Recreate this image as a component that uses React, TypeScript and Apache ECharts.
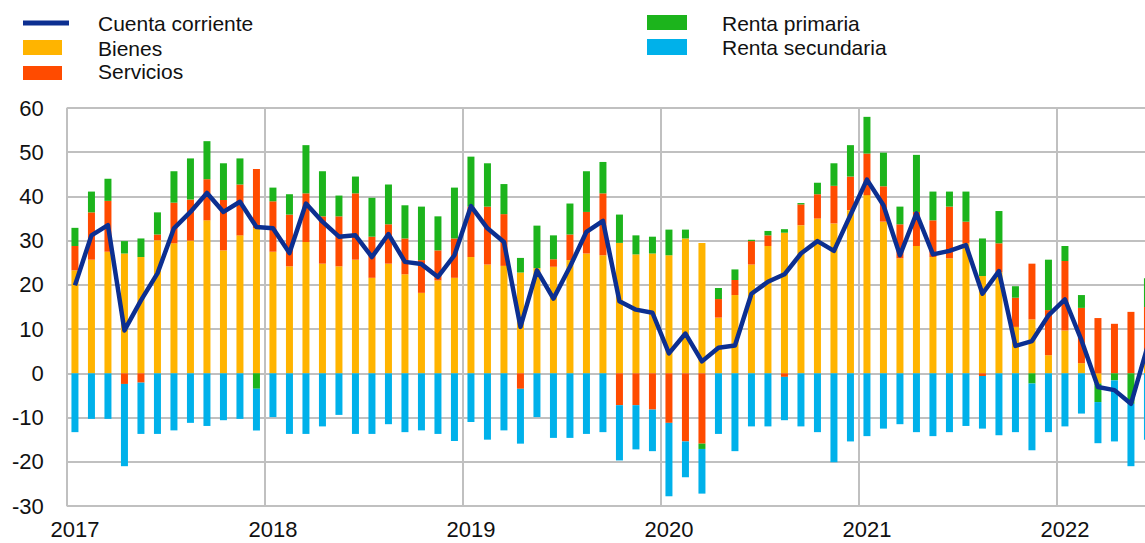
import React, { useEffect, useRef } from "react";
import * as echarts from "echarts";

const years = ["2017", "2018", "2019", "2020", "2021", "2022"];
const monthsPerYear = [12, 12, 12, 12, 12, 6];
const categories: string[] = [];
years.forEach((y, yi) => {
  for (let m = 1; m <= monthsPerYear[yi]; m++) categories.push(y + "-" + (m < 10 ? "0" + m : m));
});

const bienes = [
  23.3, 25.7, 27.5, 27.1, 26.3, 30.1, 29.4, 30.0, 34.6, 27.8, 31.2, 32.8,
  27.5, 24.2, 29.7, 24.8, 24.2, 25.7, 21.6, 24.8, 22.4, 18.2, 21.0, 21.6,
  26.3, 24.6, 24.3, 22.8, 23.8, 24.1, 25.6, 27.1, 26.7, 29.5, 26.9, 27.1,
  26.7, 30.5, 29.5, 12.6, 17.7, 24.6, 28.8, 31.8, 33.5, 35.0, 33.9, 36.9,
  40.3, 34.3, 26.0, 28.8, 26.3, 26.0, 29.4, 22.0, 22.9, 10.5, 12.2, 4.1,
  9.7, 2.3, -2.3, 0, 0, 3.0,
];
const servicios = [
  5.5, 10.7, 11.5, -2.4, -2.1, 1.3, 9.2, 9.3, 9.3, 11.4, 11.5, 13.4,
  11.4, 11.7, 11.0, 10.7, 11.3, 15.0, 9.3, 8.9, 8.1, 7.4, 6.8, 8.9,
  11.4, 13.1, 11.7, -3.5, 0, 1.7, 5.8, 9.4, 14.0, -7.2, -7.2, -8.2,
  -11.2, -15.4, -15.9, 4.2, 3.4, 5.3, 2.4, -0.8, 4.7, 5.5, 8.5, 7.6,
  9.4, 8.0, 7.7, 7.7, 8.3, 11.7, 4.9, -0.6, 6.5, 6.6, 12.6, 10.2,
  15.7, 12.5, 12.5, 11.2, 13.9, 12.0,
];
const rentaPrimaria = [
  4.1, 4.7, 5.0, 2.8, 4.2, 5.0, 7.1, 9.3, 8.6, 8.3, 5.9, -3.5,
  3.1, 4.6, 10.9, 10.2, 4.7, 3.8, 8.8, 9.0, 7.5, 12.1, 7.7, 11.5,
  11.3, 9.8, 6.8, 3.3, 9.6, 5.4, 7.0, 9.2, 7.1, 6.4, 4.3, 3.8,
  5.8, 2.0, -1.2, 2.5, 2.4, 0.3, 1.0, 0.8, 0.3, 2.6, 5.1, 7.1,
  8.3, 7.6, 4.0, 12.9, 6.5, 3.4, 6.8, 8.5, 7.3, 2.6, -2.3, 11.4,
  3.4, 2.9, -4.2, -1.6, -6.9, 6.5,
];
const rentaSecundaria = [
  -13.3, -10.3, -10.3, -18.6, -11.6, -13.7, -12.9, -11.2, -11.9, -10.6, -10.3, -9.4,
  -9.9, -13.7, -13.7, -12.0, -9.4, -13.7, -13.7, -11.5, -13.3, -12.9, -13.7, -15.3,
  -11.0, -15.0, -12.9, -12.4, -9.9, -14.6, -14.6, -13.7, -13.3, -12.5, -10.0, -9.4,
  -16.6, -8.1, -10.1, -13.7, -17.6, -12.0, -12.0, -9.8, -12.0, -13.3, -20.1, -15.4,
  -14.2, -12.5, -11.5, -13.3, -14.2, -13.3, -11.9, -11.9, -14.0, -13.3, -15.1, -13.3,
  -12.0, -9.1, -9.3, -13.8, -14.1, -15.0,
];
const cuentaCorriente = [
  19.9, 31.2, 33.5, 9.7, 16.5, 22.6, 32.8, 36.5, 40.8, 36.5, 38.8, 33.1,
  32.8, 27.2, 38.4, 34.3, 30.9, 31.2, 26.3, 31.5, 25.2, 24.7, 21.8, 26.7,
  37.8, 32.8, 29.7, 10.5, 23.3, 16.9, 24.1, 32.0, 34.5, 16.3, 14.4, 13.7,
  4.5, 9.0, 2.7, 5.8, 6.3, 18.0, 20.7, 22.4, 27.1, 29.9, 27.7, 35.8,
  43.8, 38.0, 26.7, 36.2, 26.9, 27.7, 29.0, 18.0, 23.1, 6.2, 7.3, 13.1,
  16.7, 7.5, -3.1, -3.8, -6.9, 6.0,
];

const C_LINE = "#0c2f91";
const C_BIENES = "#ffb400";
const C_SERV = "#ff4b00";
const C_PRIM = "#1cb41c";
const C_SEC = "#00b1ea";
const FONT = "'Liberation Sans', Arial, sans-serif";

export default function App() {
  const ref = useRef<HTMLDivElement>(null);
  useEffect(() => {
    if (!ref.current) return;
    const chart = echarts.init(ref.current, null, { renderer: "svg" });
    const yearTick = (i: number) => i % 12 === 0;
    const legendText = (x: number, y: number, t: string) => ({
      type: "text",
      left: x,
      top: y - 12,
      style: { text: t, fill: "#111", font: "21px " + FONT },
    });
    chart.setOption({
      animation: false,
      backgroundColor: "#fff",
      textStyle: { fontFamily: FONT },
      grid: { left: 66.7, right: 44.3, top: 108, bottom: 37 },
      xAxis: {
        type: "category",
        data: categories,
        boundaryGap: true,
        axisLine: { show: false },
        axisTick: { show: false },
        axisLabel: {
          interval: yearTick,
          formatter: (v: string) => v.slice(0, 4),
          fontSize: 22,
          color: "#111",
          margin: 12,
          fontFamily: FONT,
        },
        splitLine: { show: true, interval: yearTick, lineStyle: { color: "#c0c0c0", width: 2 } },
      },
      yAxis: {
        type: "value",
        min: -30,
        max: 60,
        interval: 10,
        axisLine: { show: false },
        axisTick: { show: false },
        axisLabel: { fontSize: 22, color: "#111", margin: 23, fontFamily: FONT },
        splitLine: { show: true, lineStyle: { color: "#c0c0c0", width: 2 } },
      },
      series: [
        { name: "Bienes", type: "bar", stack: "t", barWidth: 7, data: bienes, itemStyle: { color: C_BIENES } },
        { name: "Servicios", type: "bar", stack: "t", barWidth: 7, data: servicios, itemStyle: { color: C_SERV } },
        { name: "Renta primaria", type: "bar", stack: "t", barWidth: 7, data: rentaPrimaria, itemStyle: { color: C_PRIM } },
        { name: "Renta secundaria", type: "bar", stack: "t", barWidth: 7, data: rentaSecundaria, itemStyle: { color: C_SEC } },
        {
          name: "Cuenta corriente",
          type: "line",
          data: cuentaCorriente,
          symbol: "none",
          z: 5,
          lineStyle: { color: C_LINE, width: 4.5, join: "round" },
        },
      ],
      graphic: [
        { type: "rect", shape: { x: 23, y: 20.5, width: 46, height: 5 }, style: { fill: C_LINE } },
        { type: "rect", shape: { x: 23, y: 40, width: 39, height: 15 }, style: { fill: C_BIENES } },
        { type: "rect", shape: { x: 23, y: 66, width: 39, height: 14 }, style: { fill: C_SERV } },
        { type: "rect", shape: { x: 647, y: 15, width: 40, height: 15 }, style: { fill: C_PRIM } },
        { type: "rect", shape: { x: 647, y: 39, width: 40, height: 16 }, style: { fill: C_SEC } },
        legendText(98, 25, "Cuenta corriente"),
        legendText(98, 50, "Bienes"),
        legendText(98, 73, "Servicios"),
        legendText(722, 25, "Renta primaria"),
        legendText(722, 49, "Renta secundaria"),
      ],
    });
    return () => chart.dispose();
  }, []);
  return (
    <div
      style={{
        position: "fixed",
        left: 0,
        top: 0,
        width: 1145,
        height: 543,
        overflow: "hidden",
        background: "#fff",
      }}
    >
      <div ref={ref} style={{ width: 1200, height: 543 }} />
    </div>
  );
}
